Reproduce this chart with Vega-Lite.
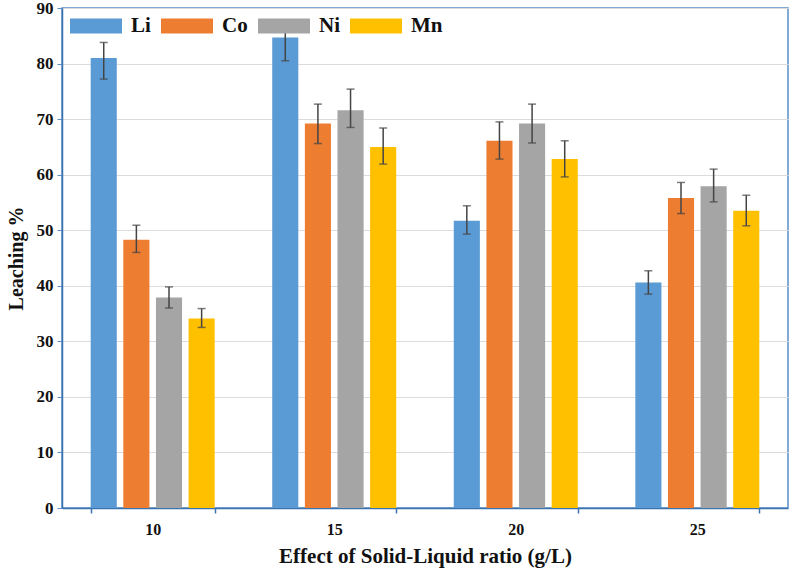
{
  "$schema": "https://vega.github.io/schema/vega-lite/v6.json",
  "autosize": {"type": "none"},
  "padding": {"left": 62, "top": 8, "right": 12, "bottom": 71},
  "width": 726,
  "height": 500,
  "background": "white",
  "config": {
    "view": {"stroke": "#5B8FC7", "strokeWidth": 1.5},
    "font": "Liberation Serif"
  },
  "data": {
    "values": [
      {"ratio": "10", "metal": "Li", "value": 81.0, "lo": 77.2, "hi": 83.8},
      {"ratio": "10", "metal": "Co", "value": 48.3, "lo": 46.0, "hi": 50.9},
      {"ratio": "10", "metal": "Ni", "value": 37.9, "lo": 36.0, "hi": 39.8},
      {"ratio": "10", "metal": "Mn", "value": 34.1, "lo": 32.5, "hi": 35.9},
      {"ratio": "15", "metal": "Li", "value": 84.7, "lo": 80.5, "hi": 87.6},
      {"ratio": "15", "metal": "Co", "value": 69.2, "lo": 65.6, "hi": 72.7},
      {"ratio": "15", "metal": "Ni", "value": 71.6, "lo": 68.5, "hi": 75.4},
      {"ratio": "15", "metal": "Mn", "value": 65.0, "lo": 61.9, "hi": 68.4},
      {"ratio": "20", "metal": "Li", "value": 51.7, "lo": 49.3, "hi": 54.4},
      {"ratio": "20", "metal": "Co", "value": 66.1, "lo": 62.8, "hi": 69.5},
      {"ratio": "20", "metal": "Ni", "value": 69.2, "lo": 65.7, "hi": 72.7},
      {"ratio": "20", "metal": "Mn", "value": 62.8, "lo": 59.6, "hi": 66.1},
      {"ratio": "25", "metal": "Li", "value": 40.6, "lo": 38.5, "hi": 42.7},
      {"ratio": "25", "metal": "Co", "value": 55.8, "lo": 53.0, "hi": 58.6},
      {"ratio": "25", "metal": "Ni", "value": 57.9, "lo": 55.1, "hi": 61.0},
      {"ratio": "25", "metal": "Mn", "value": 53.5, "lo": 50.8, "hi": 56.3}
    ]
  },
  "encoding": {
    "x": {
      "field": "ratio", "type": "nominal",
      "scale": {"paddingInner": 0.317, "paddingOuter": 0.158},
      "axis": {
        "title": "Effect of Solid-Liquid ratio (g/L)",
        "titleFont": "Liberation Serif", "titleFontSize": 21, "titleFontWeight": "bold",
        "titleColor": "#111", "titlePadding": 8,
        "labelAngle": 0, "labelFont": "Liberation Serif", "labelFontSize": 16,
        "labelFontWeight": "bold", "labelColor": "#111", "labelPadding": 8,
        "tickBand": "extent", "tickColor": "#3A73B0", "tickSize": 5, "tickWidth": 1.5,
        "domainColor": "#3A73B0", "domainWidth": 1.5, "grid": false
      }
    },
    "xOffset": {
      "field": "metal", "type": "nominal", "sort": ["Li", "Co", "Ni", "Mn"],
      "scale": {"paddingInner": 0.2, "paddingOuter": 0}
    }
  },
  "layer": [
    {
      "mark": {"type": "bar"},
      "encoding": {
        "y": {
          "field": "value", "type": "quantitative",
          "scale": {"domain": [0, 90]},
          "axis": {
            "title": "Leaching %", "values": [0, 10, 20, 30, 40, 50, 60, 70, 80, 90],
            "titleFont": "Liberation Serif", "titleFontSize": 20, "titleFontWeight": "bold",
            "titleColor": "#111", "titlePadding": 10,
            "labelFont": "Liberation Serif", "labelFontSize": 17, "labelFontWeight": "bold",
            "labelColor": "#111", "labelPadding": 4,
            "tickColor": "#5B8FC7", "tickSize": 5,
            "domainColor": "#3A73B0", "domainWidth": 1.5,
            "gridColor": "#DCDCDC", "gridWidth": 1.2
          }
        },
        "color": {
          "field": "metal", "type": "nominal", "sort": ["Li", "Co", "Ni", "Mn"],
          "scale": {"domain": ["Li", "Co", "Ni", "Mn"], "range": ["#5B9BD5", "#ED7D31", "#A5A5A5", "#FFC000"]},
          "legend": {
            "title": null, "orient": "none", "direction": "horizontal",
            "legendX": 8, "legendY": -8,
            "symbolType": "M-1,-0.29L1,-0.29L1,0.29L-1,0.29Z", "symbolSize": 2704,
            "symbolStrokeWidth": 0, "symbolOpacity": 1,
            "labelFont": "Liberation Serif", "labelFontSize": 21, "labelFontWeight": "bold",
            "labelColor": "#111", "labelOffset": 9, "columnPadding": 10,
            "padding": 0
          }
        }
      }
    },
    {
      "mark": {"type": "rule", "color": "#444", "strokeWidth": 1.5},
      "encoding": {
        "y": {"field": "lo", "type": "quantitative"},
        "y2": {"field": "hi"}
      }
    },
    {
      "mark": {"type": "tick", "color": "#444", "thickness": 1.5, "size": 8},
      "encoding": {"y": {"field": "lo", "type": "quantitative"}}
    },
    {
      "mark": {"type": "tick", "color": "#444", "thickness": 1.5, "size": 8},
      "encoding": {"y": {"field": "hi", "type": "quantitative"}}
    }
  ]
}
